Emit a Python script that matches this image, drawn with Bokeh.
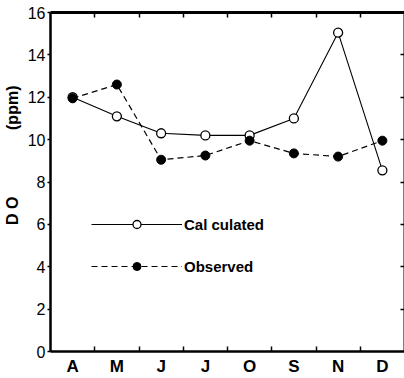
from bokeh.plotting import figure
from bokeh.models import LinearAxis, FixedTicker, Legend, LegendItem, Range1d
from bokeh.embed import file_html
from bokeh.resources import INLINE

months = ["A", "M", "J", "J", "O", "S", "N", "D"]
calculated = [12.0, 11.1, 10.3, 10.2, 10.2, 11.0, 15.05, 8.55]
observed = [11.95, 12.6, 9.05, 9.25, 9.95, 9.35, 9.2, 9.95]
y_ticks = [0, 2, 4, 6, 8, 10, 12, 14, 16]

xs = list(range(1, len(months) + 1))
between = [x + 0.5 for x in xs[:-1]]
FONT = "Liberation Sans"
NB = "\u00a0"

p = figure(width=404, height=378, output_backend="svg", toolbar_location=None,
           x_range=Range1d(0.5, 8.5), y_range=Range1d(0, 16),
           min_border_left=48, min_border_top=12, min_border_bottom=27,
           min_border_right=0, background_fill_color="white",
           border_fill_color="white")
p.outline_line_color = None
p.xgrid.visible = False
p.ygrid.visible = False

# bottom axis
xt = FixedTicker(ticks=xs, minor_ticks=between)
ax = p.xaxis[0]
ax.ticker = xt
ax.major_label_overrides = {x: m for x, m in zip(xs, months)}
ax.major_tick_in = 0
ax.major_tick_out = 0
ax.minor_tick_in = 5
ax.minor_tick_out = 0
ax.minor_tick_line_width = 1.5
ax.axis_line_width = 2.5
ax.major_label_text_font = FONT
ax.major_label_text_font_style = "bold"
ax.major_label_text_font_size = "17px"
ax.major_label_text_color = "black"
ax.major_label_standoff = 5

# left axis
ay = p.yaxis[0]
ay.ticker = FixedTicker(ticks=y_ticks, minor_ticks=[])
ay.major_tick_in = 0
ay.major_tick_out = 3
ay.major_tick_line_width = 1.5
ay.axis_line_width = 2.5
ay.major_label_text_font = FONT
ay.major_label_text_font_size = "16px"
ay.major_label_text_color = "black"
ay.major_label_standoff = 2
ay.axis_label = NB * 12 + "D" + NB + "O" + NB * 15 + "(ppm)"
ay.axis_label_text_font = FONT
ay.axis_label_text_font_style = "bold"
ay.axis_label_text_font_size = "16px"
ay.axis_label_text_color = "black"
ay.axis_label_standoff = 4

# top axis (frame)
top = LinearAxis(ticker=FixedTicker(ticks=xs, minor_ticks=between),
                 major_tick_in=0, major_tick_out=0,
                 minor_tick_in=5, minor_tick_out=0, minor_tick_line_width=1.5,
                 axis_line_width=3, major_label_standoff=0,
                 major_label_overrides={x: "" for x in xs})
p.add_layout(top, "above")

# right axis (frame, inward ticks)
inner = y_ticks[1:-1]
right = LinearAxis(ticker=FixedTicker(ticks=inner, minor_ticks=[]),
                   major_tick_in=4, major_tick_out=0, major_tick_line_width=1.5,
                   axis_line_width=2, major_label_standoff=0,
                   major_label_overrides={t: "" for t in inner})
p.add_layout(right, "right")

lc = p.line(xs, calculated, line_color="black", line_width=1.1)
sc = p.scatter(xs, calculated, size=9, marker="circle", fill_color="white",
               line_color="black", line_width=1.3)
lo = p.line(xs, observed, line_color="black", line_width=1.2, line_dash="6 4")
so = p.scatter(xs, observed, size=9, marker="circle", fill_color="black",
               line_color="black")

legend = Legend(items=[LegendItem(label="Cal culated", renderers=[lc, sc]),
                       LegendItem(label="Observed", renderers=[lo, so])],
                location=(41, 75), glyph_width=91, glyph_height=20,
                label_height=20, spacing=22, padding=0, margin=0,
                label_standoff=2, border_line_color=None,
                background_fill_alpha=0,
                label_text_font=FONT, label_text_font_style="bold",
                label_text_font_size="15px", label_text_color="black")
p.add_layout(legend, "center")

open("out.html", "w").write(file_html(p, INLINE))
